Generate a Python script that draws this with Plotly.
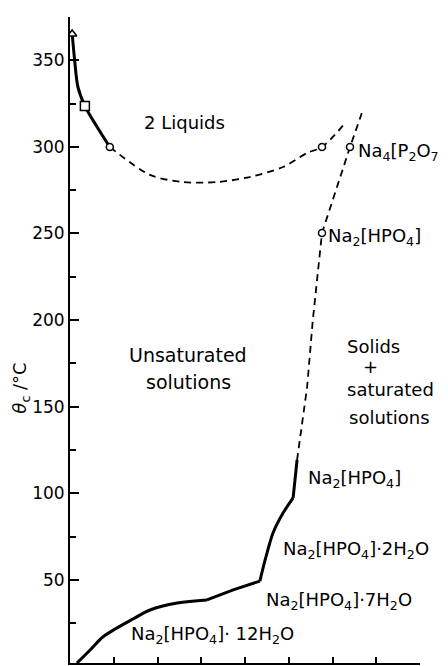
import plotly.graph_objects as go

# ---- data ----
# solubility curve, solid: Na2[HPO4]·12H2O branch
x_12h2o = [0.16, 0.46, 0.75, 1.07, 1.44, 1.83, 2.45, 3.13]
y_12h2o = [2.0, 9.5, 17.0, 22.2, 27.4, 32.6, 36.6, 38.4]
# 7H2O branch
x_7h2o = [3.13, 3.73, 4.34]
y_7h2o = [38.4, 44.2, 49.3]
# 2H2O branch
x_2h2o = [4.34, 4.46, 4.64, 4.87, 5.10]
y_2h2o = [49.3, 61.5, 77.1, 88.6, 97.3]
# anhydrous branch (solid)
x_anh = [5.10, 5.19]
y_anh = [97.3, 119.2]
# anhydrous branch continued (dashed)
x_anh_dash = [5.19, 5.26, 5.42, 5.55, 5.76, 6.40, 6.67]
y_anh_dash = [119.2, 132.5, 161.4, 200.0, 250.3, 299.9, 319.5]
# critical curve, solid part
x_crit = [0.05, 0.11, 0.18, 0.34, 0.62, 0.91]
y_crit = [365.2, 349.0, 334.6, 323.6, 311.5, 299.9]
# critical curve, dashed part (2 liquids boundary)
x_liq = [0.91, 1.83, 2.58, 3.36, 4.11, 4.87, 5.42, 5.76, 6.29]
y_liq = [299.9, 283.8, 279.7, 279.7, 282.6, 288.4, 296.5, 299.9, 313.8]
# measured points
tri_x, tri_y = [0.05], [365.2]
sq_x, sq_y = [0.34], [323.6]
circ_x = [0.91, 5.76, 6.40, 5.76]
circ_y = [299.9, 299.9, 299.9, 250.3]

y_major = [50, 100, 150, 200, 250, 300, 350]
y_labels = ["50", "100", "150", "200", "250", "300", "350"]
y_minor = [25, 75, 125, 175, 225, 275, 325, 375]
x_ticks = [1, 2, 3, 4, 5, 6, 7, 8]

FONT = "DejaVu Sans"
fig = go.Figure()

solid = dict(color="black", width=3)
dashed = dict(color="black", width=1.8, dash="7px,5px")

fig.add_trace(go.Scatter(x=x_12h2o, y=y_12h2o, mode="lines",
                         line=dict(**solid, shape="spline", smoothing=1.0)))
fig.add_trace(go.Scatter(x=x_7h2o, y=y_7h2o, mode="lines", line=solid))
fig.add_trace(go.Scatter(x=x_2h2o, y=y_2h2o, mode="lines",
                         line=dict(**solid, shape="spline", smoothing=0.8)))
fig.add_trace(go.Scatter(x=x_anh, y=y_anh, mode="lines", line=solid))
fig.add_trace(go.Scatter(x=x_anh_dash, y=y_anh_dash, mode="lines", line=dashed))
fig.add_trace(go.Scatter(x=x_crit, y=y_crit, mode="lines",
                         line=dict(**solid, shape="spline", smoothing=0.8)))
fig.add_trace(go.Scatter(x=x_liq, y=y_liq, mode="lines",
                         line=dict(**dashed, shape="spline", smoothing=0.8)))

mk = dict(color="white", line=dict(color="black", width=1.5))
fig.add_trace(go.Scatter(x=tri_x, y=tri_y, mode="markers",
                         marker=dict(symbol="triangle-up", size=8, **mk)))
fig.add_trace(go.Scatter(x=sq_x, y=sq_y, mode="markers",
                         marker=dict(symbol="square", size=9, **mk)))
fig.add_trace(go.Scatter(x=circ_x, y=circ_y, mode="markers",
                         marker=dict(symbol="circle", size=7, **mk)))

S = "<sub>2</sub>"
F = "<sub>4</sub>"
ann = [
    dict(x=1.65, y=314, text="2 Liquids", xanchor="left"),
    dict(x=2.70, y=180, text="Unsaturated", xanchor="center", size=19),
    dict(x=2.70, y=164, text="solutions", xanchor="center", size=19),
    dict(x=6.28, y=185, text="Solids", xanchor="left"),
    dict(x=6.86, y=173, text="+", xanchor="center"),
    dict(x=6.28, y=160, text="saturated", xanchor="left"),
    dict(x=6.33, y=143.5, text="solutions", xanchor="left"),
    dict(x=6.54, y=297, text="Na" + F + "[P" + S + "O<sub>7</sub>]", xanchor="left"),
    dict(x=5.86, y=248, text="Na" + S + "[HPO" + F + "]", xanchor="left"),
    dict(x=5.40, y=108, text="Na" + S + "[HPO" + F + "]", xanchor="left"),
    dict(x=4.82, y=67, text="Na" + S + "[HPO" + F + "]·2H" + S + "O", xanchor="left"),
    dict(x=4.44, y=38, text="Na" + S + "[HPO" + F + "]·7H" + S + "O", xanchor="left"),
    dict(x=1.35, y=18, text="Na" + S + "[HPO" + F + "]· 12H" + S + "O", xanchor="left"),
]
for a in ann:
    size = a.pop("size", 18)
    fig.add_annotation(xref="x", yref="y", showarrow=False,
                       font=dict(family=FONT, size=size, color="black"),
                       yanchor="middle", **a)

fig.add_annotation(xref="paper", yref="y", x=-0.14, y=161, showarrow=False,
                   text="<i>θ</i><sub>c</sub> /°C", textangle=-90,
                   font=dict(family=FONT, size=18, color="black"),
                   xanchor="center", yanchor="middle")

fig.update_xaxes(range=[0, 8], showline=True, linecolor="black", linewidth=2,
                 ticks="inside", ticklen=6, tickwidth=1.5, tickcolor="black",
                 tickvals=x_ticks, showticklabels=False, showgrid=False,
                 zeroline=False)
fig.update_yaxes(range=[2, 375], showline=True, linecolor="black", linewidth=2,
                 ticks="inside", ticklen=9, tickwidth=1.5, tickcolor="black",
                 tickvals=y_major, ticktext=y_labels, showgrid=False,
                 zeroline=False, tickfont=dict(family=FONT, size=17, color="black"),
                 minor=dict(tickvals=y_minor,
                            ticks="inside", ticklen=6, tickwidth=1.5,
                            tickcolor="black", showgrid=False))

fig.update_layout(width=448, height=666, showlegend=False,
                  plot_bgcolor="white", paper_bgcolor="white",
                  margin=dict(l=62, r=36, t=9, b=11),
                  font=dict(family=FONT, color="black"))

fig.write_html("out.html")
